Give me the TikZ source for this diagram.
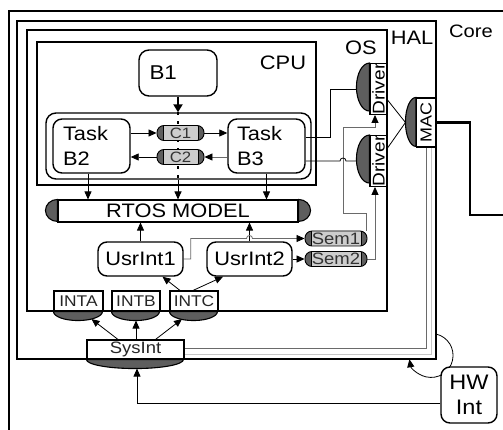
\documentclass[tikz,border=0pt]{standalone}
\usepackage{fontspec}
\setmainfont{Liberation Sans}[FakeStretch=1.12]
\usetikzlibrary{arrows.meta,calc}
\definecolor{capdark}{HTML}{5E5E5E}
\definecolor{capmid}{HTML}{CDCDCD}
\definecolor{lnk}{HTML}{6A6A6A}
\pgfdeclarelayer{bg}
\pgfsetlayers{bg,main}
\begin{document}
\begin{tikzpicture}[x=1pt,y=-1pt,
  frame/.style={draw,line width=1.3pt},
  lbl/.style={inner sep=0pt,font=\fontsize{19.5}{22}\selectfont},
  rbox/.style={draw,line width=1.4pt,rounded corners=9pt,fill=white,inner sep=0pt},
  wbox/.style={draw,line width=1.1pt,fill=white,inner sep=0pt},
  darkcap/.style={fill=capdark,draw=black,line width=1.1pt},
  conn/.style={line width=0.8pt},
  arr/.style={conn,-{Triangle[length=8pt,width=7pt]}},
  garr/.style={conn,draw=lnk,-{Triangle[length=8pt,width=7pt,color=black]}},
  capsule/.style={draw,line width=0.9pt,fill=capdark,rounded corners=7pt,inner sep=0pt,
    minimum height=15pt,text=black!80,
    path picture={
      \fill[capmid,sharp corners] ([xshift=6pt]path picture bounding box.south west) rectangle ([xshift=-6pt]path picture bounding box.north east);
      \draw[line width=0.9pt,sharp corners] ([xshift=6pt]path picture bounding box.south west) -- ([xshift=6pt]path picture bounding box.north west)
        ([xshift=-6pt]path picture bounding box.south east) -- ([xshift=-6pt]path picture bounding box.north east);
    }}
]
\useasboundingbox (0,0) rectangle (503,430);
\clip (0,0) rectangle (503,430);

% ---------- frames ----------
\begin{pgfonlayer}{bg}
\fill[white] (0,0) rectangle (503,430);
\draw[frame] (9,440) -- (9,11) -- (510,11);
\draw[frame] (17,21) rectangle (436,359);
\draw[frame] (27,30) rectangle (387,311);
\draw[frame] (37,42) rectangle (316,185);
\end{pgfonlayer}

\node[lbl,font=\fontsize{18}{20}\selectfont] (corel) at (471,31) {Core};
\node[lbl] (hall) at (412,38) {HAL};
\node[lbl] (osl) at (361,48) {OS};
\node[lbl] (cpul) at (283,63) {CPU};

% ---------- CPU content ----------
\node[rbox,fill=none,rounded corners=10pt,minimum width=265pt,minimum height=66pt] (grp) at (178.5,146) {};
\node[rbox,rounded corners=10pt,minimum width=78pt,minimum height=46pt,text width=57pt,align=left,
  font=\fontsize{20}{24}\selectfont] (b1) at (178,73) {B1};
\node[rbox,minimum width=77pt,minimum height=54pt,text width=57pt,align=left,
  font=\fontsize{19.5}{24.5}\selectfont] (b2) at (91.5,146) {Task\\B2};
\node[rbox,minimum width=77pt,minimum height=54pt,text width=59pt,align=left,
  font=\fontsize{19.5}{24.5}\selectfont] (b3) at (266.5,146) {Task\\B3};
\node[capsule,minimum width=47pt,font=\fontsize{15}{16}\selectfont] (c1) at (180.5,133) {C1};
\node[capsule,minimum width=47pt,font=\fontsize{15}{16}\selectfont] (c2) at (180.5,157) {C2};

% ---------- OS content ----------
\node[wbox,minimum width=240pt,minimum height=22pt,font=\fontsize{19.5}{20}\selectfont] (rtos) at (178,211) {RTOS MODEL};
\filldraw[darkcap] (rtos.north west) arc[start angle=90,end angle=270,x radius=12pt,y radius=11pt] -- cycle;
\filldraw[darkcap] (rtos.north east) arc[start angle=90,end angle=-90,x radius=12pt,y radius=11pt] -- cycle;

\node[rbox,minimum width=85pt,minimum height=34pt,font=\fontsize{19.5}{20}\selectfont] (u1) at (140.5,259) {UsrInt1};
\node[rbox,minimum width=85pt,minimum height=34pt,font=\fontsize{19.5}{20}\selectfont] (u2) at (249.5,259) {UsrInt2};
\node[capsule,minimum width=62pt,font=\fontsize{16.5}{16}\selectfont] (sem1) at (336,238.5) {Sem1};
\node[capsule,minimum width=62pt,font=\fontsize{16.5}{16}\selectfont] (sem2) at (336,259) {Sem2};

\node[wbox,minimum width=17pt,minimum height=48pt,font=\fontsize{17}{18}\selectfont] (drv1) at (378.5,89) {\rotatebox{90}{Driver}};
\filldraw[darkcap] (drv1.north west) arc[start angle=90,end angle=270,x radius=13pt,y radius=24pt] -- cycle;
\node[wbox,minimum width=17pt,minimum height=48pt,font=\fontsize{17}{18}\selectfont] (drv2) at (378.5,161) {\rotatebox{90}{Driver}};
\filldraw[darkcap] (drv2.north west) arc[start angle=90,end angle=270,x radius=13pt,y radius=24pt] -- cycle;

\node[wbox,minimum width=49pt,minimum height=20pt,font=\fontsize{15.5}{16}\selectfont,text=black!85] (inta) at (78.5,301) {INTA};
\filldraw[darkcap] (inta.south west) arc[start angle=180,end angle=360,x radius=24.5pt,y radius=9pt] -- cycle;
\node[wbox,minimum width=48pt,minimum height=20pt,font=\fontsize{15.5}{16}\selectfont,text=black!85] (intb) at (136,301) {INTB};
\filldraw[darkcap] (intb.south west) arc[start angle=180,end angle=360,x radius=24pt,y radius=9pt] -- cycle;
\node[wbox,minimum width=48pt,minimum height=20pt,font=\fontsize{15.5}{16}\selectfont,text=black!85] (intc) at (194,301) {INTC};
\filldraw[darkcap] (intc.south west) arc[start angle=180,end angle=360,x radius=24pt,y radius=9pt] -- cycle;

% ---------- HAL / Core content ----------
\node[wbox,minimum width=19pt,minimum height=49pt,font=\fontsize{16}{18}\selectfont] (mac) at (426,122.5) {\rotatebox{90}{MAC}};
\filldraw[darkcap] (mac.north west) arc[start angle=90,end angle=270,x radius=10.5pt,y radius=24.5pt] -- cycle;

\node[wbox,minimum width=97pt,minimum height=19pt,font=\fontsize{16.5}{18}\selectfont,text=black!85] (sys) at (135.5,349.5) {SysInt};
\filldraw[darkcap] (sys.south west) arc[start angle=180,end angle=360,x radius=48.5pt,y radius=9pt] -- cycle;

\node[rbox,minimum width=56pt,minimum height=56pt,align=center,font=\fontsize{21}{25}\selectfont] (hw) at (469,395) {HW\\Int};

% ---------- helper coordinates ----------
\coordinate (b2s) at ([xshift=-3.5pt]b2.south);
\coordinate (k1) at ([xshift=7pt]u1.east);
\coordinate (k2) at ([xshift=-3pt]u2.north);
\coordinate (sa) at ([xshift=-17.5pt]sys.north);
\coordinate (sc) at ([xshift=20pt]sys.north);
\coordinate (irq) at (436,334);

% ---------- connectors ----------
\begin{pgfonlayer}{bg}
% B1 -> tasks -> RTOS (channel line)
\draw[line width=2.4pt,-{Triangle[length=8pt,width=9pt]}] (b1.south) -- (b1.south |- grp.north);
\draw[line width=1.5pt,dash pattern=on 3pt off 6pt] (b1.south |- grp.north) -- (b1.south |- grp.south);
\draw[arr,line width=1pt] (b1.south |- grp.south) -- (b1.south |- rtos.north);
% task channels
\draw[arr] (b2.east |- c1.west) -- (c1.west);
\draw[arr] (c1.east) -- (b3.west |- c1.east);
\draw[garr] (b3.west |- c2.east) -- (c2.east);
\draw[arr] (c2.west) -- (b2.east |- c2.west);
% tasks -> RTOS
\draw[arr] (b2s) -- (b2s |- rtos.north);
\draw[arr] (b3.south) -- (b3.south |- rtos.north);
% user interrupts -> RTOS, semaphores
\draw[arr] (u1.north) -- (u1.north |- rtos.south);
\draw[arr] (u2.north) -- (u2.north |- rtos.south);
\draw[garr] (u1.east) -- (k1) -- (k1 |- sem1.west) -- (k2 |- sem1.west)
  arc[start angle=180,end angle=0,radius=3pt] -- (sem1.west);
\draw[arr] (u2.east) -- (sem2.west);
% semaphores -> drivers
\draw[garr] ([xshift=-1.5pt]sem1.north east) |- (343,213) |- (375,127) -- ([xshift=-3.5pt]drv1.south);
\draw[garr] (sem2.east) -| ([xshift=-3.5pt]drv2.south);
% tasks -> drivers
\draw[conn] ([yshift=9pt]b3.east) -- (330,137) |- ([xshift=-13pt]drv1.west);
\draw[conn] (b3.east |- drv2.west) -- (340,161) arc[start angle=180,end angle=0,radius=3pt] -- ([xshift=-13pt]drv2.west);
% drivers -> MAC
\draw[conn] ([yshift=-11pt]drv1.east) -- ([xshift=-10.5pt]mac.west);
\draw[conn] ([yshift=13pt]drv2.east) -- ([xshift=-10.5pt]mac.west);
% MAC -> outside
\draw[line width=2.6pt] (mac.east) -- (470,122.5) |- (506,215);
% MAC -> SysInt
\draw[conn,draw=lnk] (mac.south) |- ([yshift=1.5pt]sys.east);
\draw[conn,draw=gray!45] ([xshift=5pt]mac.south) |- ([yshift=-4.5pt]sys.east);
% SysInt -> INTs
\draw[arr] (sa) -- ([xshift=13pt,yshift=-7.5pt]inta.south);
\draw[arr] (intb.south |- sys.north) -- ([yshift=-9pt]intb.south);
\draw[arr] (sc) -- ([xshift=-12pt,yshift=-7.5pt]intc.south);
% INTC -> UsrInts
\draw[arr] ([xshift=-14pt]intc.north) -- ([xshift=22pt]u1.south);
\draw[arr] ([xshift=-1pt]intc.north) -- ([xshift=-26.5pt]u2.south);
% HW interrupt
\draw[arr] ([yshift=-8pt]hw.west) -| ([xshift=1.5pt,yshift=-9pt]sys.south);
\draw[arr] (irq) arc[start angle=77,end angle=-170,radius=22pt];
\end{pgfonlayer}
\end{tikzpicture}
\end{document}
